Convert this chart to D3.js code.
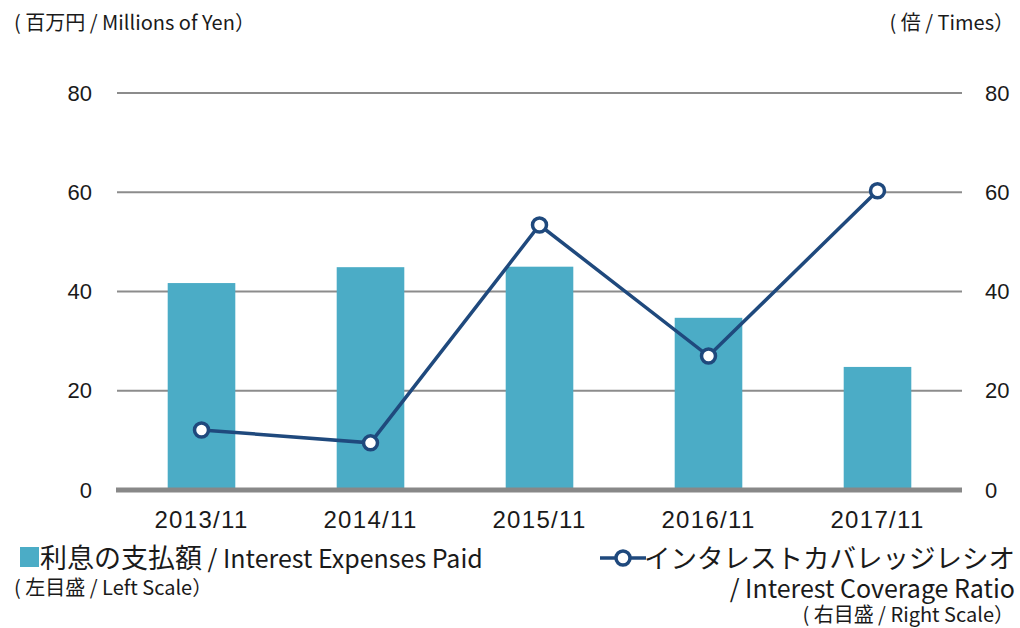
<!DOCTYPE html>
<html>
<head>
<meta charset="utf-8">
<script src="https://cdn.jsdelivr.net/npm/d3@7/dist/d3.min.js"></script>
<style>
  body { margin: 0; background: #fff; }
  text { font-family: "Noto Sans CJK JP", "Noto Sans", sans-serif; fill: #1a1a1a; }
  .tick text { font-family: "Liberation Sans", Arial, sans-serif; }
</style>
</head>
<body>
<div id="chart"></div>
<script>
// data
var categories = ["2013/11", "2014/11", "2015/11", "2016/11", "2017/11"];
var interestPaid = [41.7, 44.9, 45.0, 34.7, 24.8];
var coverageRatio = [12.1, 9.5, 53.4, 27.0, 60.3];
var leftTicks = [0, 20, 40, 60, 80];
var rightTicks = [0, 20, 40, 60, 80];

var width = 1020, height = 628;
var plotLeft = 117, plotRight = 962, plotTop = 93, plotBottom = 490;
var barColor = "#4bacc6", lineColor = "#1f497d", gridColor = "#8c8c8c";

var svg = d3.select("#chart").append("svg")
    .attr("width", width)
    .attr("height", height);

var x = d3.scaleBand()
    .domain(categories)
    .range([plotLeft, plotRight])
    .paddingInner(0.6)
    .paddingOuter(0.3);

var yLeft = d3.scaleLinear().domain([0, 80]).range([plotBottom, plotTop]);
var yRight = d3.scaleLinear().domain([0, 80]).range([plotBottom, plotTop]);

// gridlines
svg.append("g").selectAll("line")
    .data(leftTicks.filter(function(d) { return d > 0; }))
    .enter().append("line")
    .attr("x1", plotLeft).attr("x2", plotRight)
    .attr("y1", function(d) { return yLeft(d); })
    .attr("y2", function(d) { return yLeft(d); })
    .style("stroke", gridColor)
    .style("stroke-width", 2);

// bars
svg.append("g").selectAll("rect")
    .data(interestPaid)
    .enter().append("rect")
    .attr("x", function(d, i) { return x(categories[i]); })
    .attr("width", x.bandwidth())
    .attr("y", function(d) { return yLeft(d); })
    .attr("height", function(d) { return plotBottom - yLeft(d); })
    .style("fill", barColor);

// baseline
svg.append("line")
    .attr("x1", plotLeft - 1).attr("x2", plotRight)
    .attr("y1", plotBottom).attr("y2", plotBottom)
    .style("stroke", "#888888")
    .style("stroke-width", 5);

// axes
var leftAxis = d3.axisLeft(yLeft).tickValues(leftTicks).tickSize(0).tickPadding(25);
svg.append("g")
    .attr("transform", "translate(" + plotLeft + ",0)")
    .call(leftAxis)
    .call(function(g) { g.select(".domain").remove(); })
    .selectAll("text").style("font-size", "22px").style("fill", "#1a1a1a");

var rightAxis = d3.axisRight(yRight).tickValues(rightTicks).tickSize(0).tickPadding(23);
svg.append("g")
    .attr("transform", "translate(" + plotRight + ",0)")
    .call(rightAxis)
    .call(function(g) { g.select(".domain").remove(); })
    .selectAll("text").style("font-size", "22px").style("fill", "#1a1a1a");

var xAxis = d3.axisBottom(x).tickSize(0).tickPadding(21);
svg.append("g")
    .attr("transform", "translate(0," + plotBottom + ")")
    .call(xAxis)
    .call(function(g) { g.select(".domain").remove(); })
    .selectAll("text").style("font-size", "24px").style("letter-spacing", "1.3px").style("fill", "#1a1a1a");

// line
var line = d3.line()
    .x(function(d, i) { return x(categories[i]) + x.bandwidth() / 2; })
    .y(function(d) { return yRight(d); });

svg.append("path")
    .datum(coverageRatio)
    .attr("d", line)
    .style("fill", "none")
    .style("stroke", lineColor)
    .style("stroke-width", 3.5);

svg.append("g").selectAll("circle")
    .data(coverageRatio)
    .enter().append("circle")
    .attr("cx", function(d, i) { return x(categories[i]) + x.bandwidth() / 2; })
    .attr("cy", function(d) { return yRight(d); })
    .attr("r", 7)
    .style("fill", "#fff")
    .style("stroke", lineColor)
    .style("stroke-width", 3.5);

// unit labels
svg.append("text").attr("x", 14).attr("y", 30)
    .style("font-size", "20px")
    .text("( 百万円 / Millions of Yen）");
svg.append("text").attr("x", 1014).attr("y", 30)
    .attr("text-anchor", "end")
    .style("font-size", "20px")
    .text("( 倍 / Times）");

// legend: bars
svg.append("rect").attr("x", 20).attr("y", 547).attr("width", 19).attr("height", 20)
    .style("fill", barColor);
var leg1 = svg.append("text").attr("x", 40).attr("y", 568);
leg1.append("tspan").style("font-size", "27px").text("利息の支払額");
leg1.append("tspan").style("font-size", "25px").text(" / Interest Expenses Paid");
svg.append("text").attr("x", 14).attr("y", 595)
    .style("font-size", "20px")
    .text("( 左目盛 / Left Scale）");

// legend: line
svg.append("line").attr("x1", 600).attr("x2", 646).attr("y1", 558).attr("y2", 558)
    .style("stroke", lineColor).style("stroke-width", 3.5);
svg.append("circle").attr("cx", 623).attr("cy", 558).attr("r", 7)
    .style("fill", "#fff").style("stroke", lineColor).style("stroke-width", 3.5);
svg.append("text").attr("x", 1015).attr("y", 568)
    .attr("text-anchor", "end")
    .style("font-size", "26.5px")
    .text("インタレストカバレッジレシオ");
svg.append("text").attr("x", 1015).attr("y", 598)
    .attr("text-anchor", "end")
    .style("font-size", "25px")
    .text("/ Interest Coverage Ratio");
svg.append("text").attr("x", 1014).attr("y", 622)
    .attr("text-anchor", "end")
    .style("font-size", "20px")
    .text("( 右目盛 / Right Scale）");
</script>
</body>
</html>
